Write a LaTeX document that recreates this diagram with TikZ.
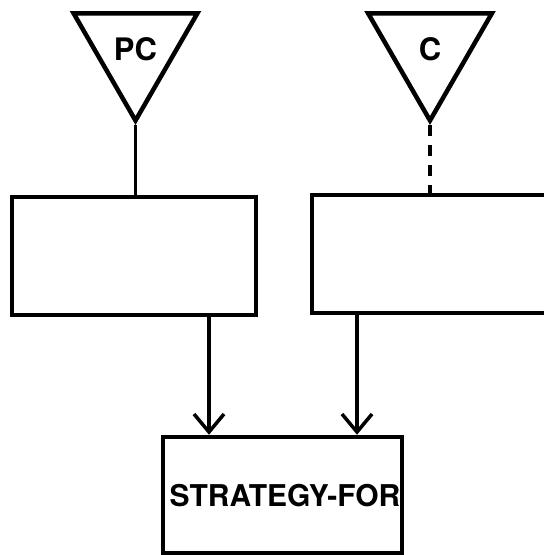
\documentclass[tikz,border=0pt]{standalone}
\usepackage{fontspec}
\setmainfont{TeX Gyre Heros}
\usetikzlibrary{shapes.geometric,arrows.meta}
\begin{document}
\begin{tikzpicture}[x=1pt,y=-1pt,
  tri/.style={draw, line width=4.5pt, regular polygon, regular polygon sides=3,
    shape border rotate=180, minimum size=143pt, inner sep=0pt,
    font=\fontsize{31}{31}\selectfont\bfseries},
  bx/.style={draw, line width=4.5pt, rectangle, inner sep=0pt},
  conn/.style={line width=3.5pt},
  arr/.style={line width=3.5pt, -{Straight Barb[length=18pt,width=30pt,line width=3.5pt]}},
  lbl/.style={font=\fontsize{30}{30}\selectfont\bfseries}]
\useasboundingbox (0,0) rectangle (544,555);
\clip (0,0) rectangle (544,555);
\node[tri] (pc) at (135.5,49) {PC};
\node[tri] (c) at (430,49) {C};
\node[bx, minimum width=244pt, minimum height=118pt] (lb) at (134,256) {};
\node[bx, minimum width=250pt, minimum height=118pt] (rb) at (437,254) {};
\node[bx, minimum width=239pt, minimum height=116pt, lbl, text depth=0pt] (sf) at (282.5,495) {\hspace*{5pt}STRATEGY-FOR};
\draw[conn] (pc.south) -- (pc.south |- lb.north);
\draw[conn, dash pattern=on 11pt off 9pt] (c.south) -- (c.south |- rb.north);
\draw[arr] (209,315) coordinate (a1) -- (a1 |- sf.north);
\draw[arr] (357,313) coordinate (a2) -- (a2 |- sf.north);
\end{tikzpicture}
\end{document}
